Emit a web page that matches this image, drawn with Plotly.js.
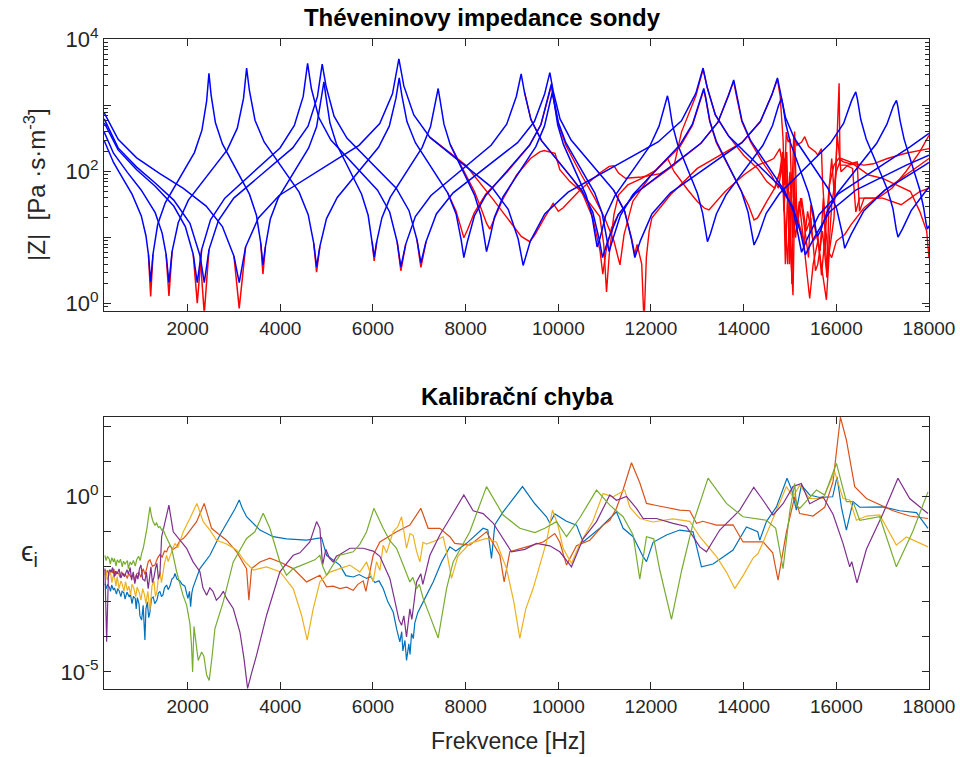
<!DOCTYPE html>
<html>
<head>
<meta charset="utf-8">
<script src="https://cdn.plot.ly/plotly-3.0.1.min.js"></script>
<style>html,body{margin:0;padding:0;background:#fff;}#chart{width:960px;height:757px;}</style>
</head>
<body>
<div id="chart"></div>
<script>
// ---- Top panel: |Z| values, stored as [frequency Hz, log10 |Z|] ----
const tubeA_model = [[200,2.47],[400,2.14],[600,1.90],[800,1.66],[1000,1.33],[1100,1.03],[1155,0.74],[1202,0.33],
[1252,0.75],[1353,1.20],[1517,1.53],[2146,2.29],[2309,2.63],[2410,3.07],[2460,3.49],
[2507,3.16],[2600,2.74],[2751,2.42],[3334,1.66],[3485,1.34],[3578,0.92],[3625,0.59],
[3678,0.86],[3783,1.28],[3954,1.60],[4612,2.36],[4783,2.68],[4888,3.10],[4941,3.36],
[4984,3.14],[5071,2.74],[5212,2.42],[5755,1.66],[5896,1.34],[5983,0.94],[6026,0.71],
[6081,0.94],[6192,1.30],[6371,1.61],[7062,2.37],[7241,2.68],[7352,3.04],[7407,3.26],
[7449,3.08],[7532,2.72],[7668,2.41],[8190,1.65],[8326,1.34],[8409,0.98],[8451,0.79],
[8508,0.95],[8621,1.31],[8806,1.62],[9515,2.38],[9700,2.69],[9813,3.05],[9870,3.20],
[9909,3.06],[9986,2.71],[10112,2.41],[10595,1.65],[10721,1.35],[10798,1.00],[10837,0.86],
[10898,0.99],[11019,1.33],[11217,1.63],[11976,2.39],[12174,2.69],[12295,3.02],[12356,3.15],
[12391,3.03],[12460,2.72],[12572,2.42],[13003,1.67],[13115,1.37],[13184,1.06],[13219,0.94],
[13283,1.06],[13411,1.36],[13618,1.65],[14416,2.40],[14623,2.70],[14751,3.00],[14815,3.11],
[14846,3.01],[14908,2.73],[15009,2.44],[15398,1.68],[15499,1.39],[15561,1.11],[15592,1.02],
[15660,1.11],[15797,1.38],[16018,1.67],[16871,2.43],[17092,2.72],[17229,2.99],[17297,3.08],
[17324,3.00],[17377,2.77],[17464,2.49],[17799,1.73],[17886,1.45],[17939,1.21],[17966,1.13],
[18000,1.18]];

const tubeB_model = [[200,2.60],[400,2.28],[700,1.99],[1000,1.72],[1300,1.38],[1450,1.07],[1535,0.75],[1597,0.32],
[1664,0.79],[1798,1.23],[2016,1.57],[2854,2.33],[3072,2.66],[3206,3.11],[3273,3.57],
[3333,3.23],[3454,2.78],[3651,2.45],[4406,1.69],[4602,1.35],[4723,0.91],[4783,0.56],
[4854,0.87],[4997,1.29],[5229,1.61],[6120,2.37],[6352,2.69],[6495,3.11],[6566,3.42],
[6622,3.16],[6733,2.76],[6915,2.44],[7612,1.68],[7794,1.36],[7905,0.96],[7961,0.70],
[8037,0.94],[8188,1.33],[8433,1.64],[9378,2.40],[9623,2.71],[9774,3.10],[9850,3.33],
[9900,3.11],[10000,2.75],[10162,2.44],[10785,1.68],[10946,1.37],[11046,1.01],[11096,0.79],
[11178,0.98],[11341,1.34],[11607,1.65],[12628,2.41],[12894,2.72],[13057,3.08],[13139,3.26],
[13182,3.12],[13269,2.77],[13410,2.46],[13953,1.70],[14094,1.39],[14181,1.04],[14224,0.89],
[14312,1.02],[14487,1.37],[14773,1.67],[15870,2.43],[16156,2.73],[16331,3.08],[16419,3.21],
[16455,3.10],[16528,2.79],[16647,2.49],[17103,1.73],[17222,1.44],[17295,1.12],[17331,1.01],
[17426,1.13],[17615,1.41],[17924,1.70],[18000,1.77]];

const tubeC_model = [[200,2.74],[500,2.33],[900,2.03],[1300,1.78],[1700,1.48],[1950,1.17],[2120,0.75],[2208,0.32],
[2303,0.82],[2494,1.27],[2803,1.60],[3994,2.36],[4303,2.70],[4494,3.14],[4589,3.64],
[4670,3.26],[4831,2.82],[5092,2.48],[6099,1.72],[6360,1.39],[6521,0.94],[6602,0.56],
[6706,0.90],[6914,1.32],[7251,1.64],[8549,2.40],[8886,2.72],[9094,3.14],[9198,3.48],
[9268,3.21],[9409,2.79],[9637,2.47],[10515,1.71],[10743,1.39],[10884,0.97],[10954,0.70],
[11067,0.95],[11294,1.35],[11662,1.67],[13077,2.43],[13445,2.75],[13672,3.15],[13785,3.39],
[13844,3.17],[13961,2.78],[14151,2.47],[14884,1.71],[15074,1.40],[15191,1.01],[15250,0.78],
[15375,0.99],[15626,1.35],[16033,1.66],[17598,2.38],[18000,2.58]];

const tubeD_model = [[200,2.80],[500,2.36],[900,2.07],[1300,1.83],[1700,1.57],[2050,1.22],[2270,0.72],[2359,0.32],
[2461,0.82],[2664,1.26],[2995,1.60],[4268,2.36],[4599,2.69],[4802,3.14],[4904,3.63],
[4989,3.29],[5160,2.84],[5437,2.51],[6502,1.75],[6778,1.41],[6949,0.97],[7034,0.62],
[7145,0.94],[7368,1.36],[7730,1.68],[9121,2.44],[9483,2.76],[9706,3.18],[9817,3.50],
[9890,3.22],[10037,2.80],[10276,2.48],[11193,1.72],[11431,1.40],[11578,0.98],[11651,0.70],
[11774,0.96],[12020,1.36],[12421,1.68],[13960,2.44],[14360,2.76],[14606,3.16],[14729,3.42],
[14787,3.20],[14903,2.82],[15092,2.51],[15818,1.75],[16007,1.44],[16123,1.08],[16181,0.84],
[16319,1.05],[16596,1.41],[17046,1.72],[17911,2.10],[18000,2.14]];

const tubeE_model = [[200,2.89],[500,2.49],[900,2.21],[1400,1.97],[1900,1.75],[2400,1.48],[2750,1.17],[3000,0.72],[3113,0.32],
[3251,0.86],[3527,1.30],[3975,1.64],[5698,2.40],[6146,2.73],[6421,3.18],[6559,3.71],
[6666,3.30],[6881,2.86],[7230,2.52],[8571,1.76],[8919,1.43],[9134,0.98],[9241,0.58],
[9396,0.95],[9707,1.36],[10212,1.69],[12153,2.45],[12658,2.77],[12969,3.19],[13124,3.57],
[13212,3.28],[13389,2.86],[13676,2.54],[14779,1.78],[15065,1.46],[15242,1.04],[15330,0.74],
[15504,0.98],[15853,1.39],[16420,1.72],[17510,2.10],[18000,2.25]];

// measured (red) curves: deeper tips at low-frequency minima, separated pieces
const measured_tips = [[1155,0.74],[1202,0.11],[1252,0.75],[null,null],
[1535,0.75],[1597,0.12],[1664,0.79],[null,null],
[2120,0.75],[2208,0.01],[2303,0.82],[null,null],
[2270,0.72],[2359,-0.15],[2461,0.82],[null,null],
[3000,0.72],[3113,-0.07],[3251,0.86],[null,null],
[3578,0.92],[3625,0.45],[3678,0.86],[null,null],
[4723,0.91],[4783,0.48],[4854,0.87],[null,null],
[5983,0.94],[6026,0.65],[6081,0.94],[null,null],
[6521,0.94],[6602,0.50],[6706,0.90],[null,null],
[6949,0.97],[7034,0.55],[7145,0.94]];

const tubeA_meas = [[7668,2.41],[8000,1.95],[8190,1.70],[8330,1.45],[8450,1.22],[8522,1.13],[8600,1.25],[8800,1.58],[9100,1.95],[9400,2.20],[9600,2.30],[9700,2.32],[9800,2.30],[9930,2.28],[10032,2.03],[10250,1.85],[10464,1.72],[10700,1.50],[10895,1.32],[10980,0.90],[11040,0.18],[11100,0.75],[11200,1.35],[11300,1.65],[11500,1.80],[11800,1.90],[12100,2.02],[12356,2.20],[12500,2.00],[12800,1.72],[13000,1.55],[13150,1.45],[13250,1.42],[13600,1.70],[14000,1.95],[14300,2.10],[14500,2.15],[14650,2.20],[14780,2.35],[14815,2.20],[14860,1.80],[14900,0.60],[14940,1.50],[15000,2.00],[15060,1.00],[15100,2.61],[15150,1.30],[15250,1.60],[15350,1.10],[15450,1.30],[15550,0.50],[15600,0.60],[15700,1.10],[15800,0.40],[15900,1.50],[16000,2.00],[16100,2.20],[16300,2.15],[16500,2.05],[16700,1.95],[17000,1.90],[17300,1.80],[17600,1.70],[17800,1.40],[17950,1.10],[18000,0.69]];

const tubeB_meas = [[7612,1.68],[7794,1.40],[7900,1.15],[7961,1.00],[8040,1.12],[8188,1.38],[8433,1.66],[8900,2.00],[9378,2.40],[9623,2.71],[9774,3.10],[9850,3.30],[9900,3.08],[9999,2.72],[10162,2.40],[10500,1.95],[10785,1.60],[11000,1.30],[11200,0.95],[11330,0.59],[11420,1.05],[11607,1.55],[12000,1.95],[12628,2.38],[12894,2.70],[13057,3.06],[13139,3.24],[13182,3.10],[13269,2.76],[13410,2.44],[13700,2.05],[13953,1.72],[14100,1.50],[14224,1.27],[14300,1.30],[14500,1.55],[14670,1.75],[14780,2.00],[14840,2.30],[14870,1.50],[14950,0.60],[15000,1.70],[15040,0.30],[15090,1.90],[15150,1.10],[15230,1.60],[15300,1.20],[15400,0.70],[15450,1.50],[15550,1.10],[15650,0.80],[15720,1.60],[15800,0.40],[15850,1.80],[15950,2.10],[16050,2.20],[16150,2.15],[16300,2.12],[16450,2.15],[16500,1.40],[16600,1.60],[16900,1.60],[17200,1.75],[17500,2.00],[17800,2.30],[18000,2.55]];

const tubeC_meas = [[9268,3.21],[9409,2.79],[9637,2.47],[10000,2.15],[10300,1.90],[10515,1.68],[10743,1.30],[10900,0.80],[10960,0.45],[11030,0.80],[11150,1.15],[11294,1.35],[11662,1.67],[12400,2.05],[13077,2.43],[13445,2.75],[13672,3.15],[13785,3.37],[13844,3.15],[13961,2.76],[14151,2.45],[14400,2.15],[14600,1.95],[14750,1.75],[14830,2.10],[14870,1.40],[14930,2.30],[14990,0.60],[15030,1.60],[15120,1.00],[15200,1.55],[15300,0.90],[15380,1.40],[15500,0.95],[15600,1.05],[15680,0.43],[15740,0.90],[15820,1.50],[15900,2.20],[15960,1.60],[16020,2.56],[16100,2.00],[16250,2.10],[16400,2.12],[16600,2.10],[16800,2.12],[17100,2.20],[17500,2.28],[18000,2.35]];

const tubeD_meas = [[11193,1.72],[11431,1.40],[11578,1.00],[11651,0.75],[11700,0.90],[11800,0.60],[11850,-0.30],[11900,0.70],[11960,1.10],[12020,1.30],[12421,1.65],[13000,2.05],[13960,2.44],[14360,2.76],[14606,3.16],[14729,3.40],[14787,3.15],[14850,2.50],[14880,1.80],[14920,2.60],[14960,2.45],[15000,2.50],[15040,1.60],[15080,2.55],[15150,2.40],[15250,2.45],[15318,2.53],[15400,2.38],[15550,2.30],[15600,2.25],[15678,2.35],[15700,1.90],[15760,1.20],[15820,0.80],[15900,0.70],[16000,0.95],[16181,1.05],[16319,1.20],[16596,1.45],[17046,1.72],[17500,1.95],[18000,2.20]];

const tubeE_meas = [[7230,2.52],[8000,2.10],[8571,1.60],[8900,1.30],[9200,1.02],[9385,0.94],[9500,1.05],[9700,1.30],[9888,1.52],[10000,1.40],[10100,1.45],[10464,1.72],[10895,1.98],[11100,2.08],[11200,2.09],[11300,1.98],[11450,1.90],[11800,1.92],[12200,1.97],[12500,2.10],[12658,2.60],[12969,3.15],[13124,3.55],[13212,3.28],[13389,2.86],[13676,2.54],[14000,2.25],[14300,2.05],[14500,1.85],[14670,1.75],[14886,2.20],[14930,1.77],[15000,1.00],[15065,0.13],[15102,1.60],[15200,1.20],[15300,0.95],[15330,0.70],[15425,0.08],[15500,0.60],[15600,0.95],[15700,0.45],[15786,0.06],[15850,0.80],[15950,1.30],[16060,3.34],[16080,2.10],[16200,2.10],[16350,2.05],[16420,1.39],[16500,1.60],[17000,1.60],[17200,1.55],[17400,1.50],[17600,1.60],[17800,1.70],[18000,1.75]];

// ---- Bottom panel: calibration error, [frequency Hz, log10 eps] ----
const err1 = [[215,-2.48],[245,-2.62],[270,-2.50],[310,-2.58],[335,-2.70],[360,-2.52],[400,-2.66],[420,-2.60],[465,-2.78],[490,-2.62],[520,-2.68],[560,-2.85],[585,-2.70],[625,-2.74],[650,-2.92],[690,-2.72],[740,-2.86],[765,-2.78],[800,-3.05],[830,-2.84],[870,-2.90],[890,-3.20],[915,-2.88],[950,-3.05],[970,-3.40],[1007,-3.52],[1040,-3.10],[1078,-4.09],[1100,-3.20],[1130,-3.00],[1160,-3.45],[1186,-3.30],[1220,-2.90],[1257,-2.86],[1290,-3.05],[1337,-2.95],[1370,-2.75],[1402,-2.70],[1435,-2.85],[1467,-2.80],[1500,-2.60],[1547,-2.52],[1580,-2.65],[1618,-2.55],[1660,-2.35],[1700,-2.30],[1726,-2.19],[1770,-2.35],[1834,-2.40],[1880,-2.50],[1941,-2.55],[1980,-2.75],[2006,-2.90],[2040,-2.70],[2064,-3.14],[2090,-2.75],[2114,-2.60],[2265,-2.05],[2481,-1.67],[2697,-1.09],[2912,-0.62],[3020,-0.35],[3113,-0.09],[3171,-0.30],[3272,-0.57],[3560,-0.95],[3847,-1.14],[4136,-1.20],[4567,-1.24],[4891,-1.17],[4940,-1.40],[4999,-1.67],[5134,-1.80],[5286,-1.95],[5415,-2.25],[5573,-2.29],[5700,-2.22],[5862,-2.33],[5950,-2.28],[6041,-2.45],[6130,-2.40],[6220,-2.62],[6321,-3.00],[6436,-3.29],[6515,-3.80],[6580,-4.14],[6620,-3.85],[6645,-4.40],[6690,-4.10],[6724,-4.67],[6774,-4.20],[6800,-4.50],[6832,-3.90],[6870,-4.05],[6903,-3.60],[6968,-3.30],[7083,-3.00],[7299,-2.43],[7479,-1.86],[7659,-1.43],[7788,-1.55],[8019,-1.33],[8377,-0.90],[8478,-0.95],[8558,-1.76],[8630,-0.80],[8809,-0.43],[9025,-0.05],[9227,0.29],[9493,-0.20],[9745,-0.57],[9816,-0.75],[9924,-0.49],[10177,-0.70],[10392,-0.81],[10534,-1.29],[10895,-0.90],[11255,-0.43],[11398,-0.90],[11614,-1.14],[11830,-1.71],[11903,-1.85],[12045,-1.30],[12334,-1.09],[12621,-0.95],[12908,-1.00],[13089,-2.00],[13339,-1.92],[13771,-1.52],[14060,-0.86],[14304,-1.00],[14347,-1.24],[14491,-0.71],[14707,-0.29],[14936,0.53],[15037,0.20],[15138,-0.38],[15246,0.33],[15425,0.05],[15642,-0.02],[15921,0.00],[16015,0.57],[16110,-0.30],[16217,-0.95],[16360,-0.14],[16505,-0.30],[17008,-0.29],[17368,-0.40],[17729,-0.45],[17978,-0.90]];

const err2 = [[215,-2.09],[240,-2.18],[275,-2.10],[300,-2.24],[345,-2.12],[380,-2.16],[405,-2.06],[440,-2.25],[470,-2.15],[515,-2.20],[540,-2.30],[575,-2.14],[620,-2.26],[650,-2.20],[700,-2.33],[725,-2.18],[770,-2.28],[826,-2.24],[850,-2.38],[900,-2.20],[950,-2.16],[990,-2.30],[1040,-2.05],[1080,-2.22],[1115,-2.05],[1150,-1.85],[1186,-1.80],[1240,-1.98],[1294,-1.95],[1350,-1.75],[1402,-1.65],[1450,-1.72],[1500,-1.55],[1547,-1.57],[1580,-1.45],[1618,-1.40],[1690,-1.50],[1762,-1.43],[1834,-1.25],[1900,-1.20],[1978,-1.09],[2194,-0.71],[2358,-0.19],[2517,-0.90],[2653,-1.05],[2841,-1.24],[3057,-1.57],[3272,-2.05],[3322,-2.95],[3380,-2.05],[3560,-1.86],[3775,-1.75],[3991,-1.86],[4278,-2.05],[4567,-2.43],[4703,-2.35],[4854,-2.24],[4999,-2.57],[5140,-2.55],[5286,-2.62],[5430,-2.58],[5573,-2.67],[5674,-2.50],[5788,-2.40],[5847,-2.70],[6004,-1.67],[6149,-1.29],[6509,-1.00],[6796,-0.81],[7033,-0.33],[7191,-0.90],[7443,-0.90],[7659,-1.14],[7766,-1.33],[8090,-1.38],[8450,-1.00],[8738,-1.67],[8831,-2.43],[8953,-1.57],[9314,-1.43],[9672,-1.29],[9924,-1.05],[10032,-1.30],[10177,-1.95],[10392,-1.40],[10680,-1.24],[10966,-0.81],[11111,-0.67],[11255,-0.33],[11398,0.20],[11579,0.97],[11758,0.40],[11903,-0.19],[12118,-0.25],[12621,-0.38],[12837,-0.40],[12981,-0.76],[13118,-0.70],[13413,-0.81],[13771,-0.80],[13987,-1.29],[14419,-1.29],[14627,-1.60],[14742,-2.38],[14923,-1.00],[15102,0.00],[15210,-0.48],[15497,-0.55],[15749,-0.30],[15929,0.43],[16030,1.50],[16088,2.27],[16217,1.62],[16397,0.29],[16649,-0.05],[16865,-0.19],[17223,-0.40],[17583,-0.55],[17978,-0.62]];

const err3 = [[215,-2.24],[240,-2.10],[265,-2.38],[300,-2.20],[330,-2.12],[366,-2.45],[395,-2.25],[430,-2.35],[453,-2.55],[480,-2.28],[520,-2.62],[560,-2.40],[590,-2.50],[625,-2.70],[660,-2.42],[700,-2.68],[730,-2.55],[770,-2.80],[798,-2.50],[840,-2.62],[880,-2.85],[910,-2.58],[960,-2.75],[992,-2.95],[1030,-2.62],[1070,-2.80],[1100,-3.05],[1140,-2.70],[1186,-3.24],[1230,-2.55],[1273,-2.40],[1305,-2.85],[1337,-2.70],[1370,-2.30],[1402,-2.14],[1435,-2.45],[1467,-2.20],[1500,-1.90],[1547,-1.67],[1580,-1.85],[1618,-1.70],[1670,-1.50],[1726,-1.33],[1790,-1.45],[1905,-1.00],[2049,-0.62],[2200,-0.19],[2336,-0.71],[2481,-0.95],[2625,-1.24],[2841,-1.35],[3057,-1.52],[3236,-1.85],[3415,-2.09],[3704,-2.00],[3991,-2.14],[4278,-2.62],[4459,-3.38],[4580,-4.09],[4710,-3.20],[4854,-2.43],[5070,-2.15],[5286,-2.05],[5501,-1.95],[5717,-2.15],[5862,-1.86],[6004,-2.43],[6077,-1.85],[6149,-2.10],[6220,-1.38],[6293,-1.60],[6436,-1.00],[6537,-0.85],[6617,-0.57],[6724,-1.47],[6800,-1.05],[6867,-1.10],[6940,-1.55],[7012,-1.86],[7080,-1.30],[7156,-1.35],[7372,-1.24],[7514,-1.14],[7594,-1.60],[7696,-2.33],[7831,-1.70],[8090,-1.33],[8450,-1.19],[8666,-1.30],[8882,-2.05],[9040,-3.00],[9169,-4.04],[9298,-3.20],[9456,-2.62],[9745,-1.29],[9874,-0.38],[9989,-0.80],[10103,-1.47],[10284,-1.90],[10464,-1.35],[10744,-0.70],[10966,0.09],[11182,0.00],[11434,0.19],[11542,-0.30],[11758,-0.62],[12038,-0.72],[12334,-0.67],[12470,-0.63],[12837,-0.70],[13053,-1.14],[13413,-1.71],[13628,-2.15],[13808,-2.62],[13987,-2.25],[14203,-1.75],[14311,-1.62],[14419,-1.30],[14707,-0.38],[14923,0.29],[15065,0.00],[15210,0.33],[15425,-0.05],[15712,-0.05],[15965,0.71],[16144,-0.05],[16289,-0.09],[16433,-0.67],[16649,-0.55],[16936,-0.52],[17296,-1.38],[17512,-1.15],[17978,-1.43]];

const err4 = [[215,-2.05],[252,-4.14],[291,-2.20],[320,-2.08],[350,-2.15],[380,-2.02],[420,-2.28],[445,-2.12],[480,-2.20],[520,-2.06],[560,-2.32],[600,-2.18],[640,-2.28],[690,-2.08],[720,-2.20],[760,-2.02],[790,-2.38],[826,-2.14],[860,-2.48],[900,-2.22],[927,-2.35],[960,-2.05],[992,-1.95],[1030,-2.35],[1078,-2.40],[1110,-2.15],[1149,-2.62],[1180,-2.20],[1208,-2.00],[1240,-2.45],[1273,-2.30],[1305,-2.05],[1337,-1.90],[1370,-2.35],[1402,-2.20],[1439,-1.14],[1510,-0.70],[1596,-0.24],[1689,-1.00],[1834,-1.25],[1978,-1.47],[2114,-1.85],[2265,-2.14],[2330,-2.60],[2410,-2.81],[2480,-2.60],[2546,-2.70],[2620,-2.95],[2697,-2.85],[2770,-2.70],[2841,-2.90],[2984,-3.19],[3128,-3.86],[3214,-4.60],[3294,-5.47],[3387,-5.00],[3488,-4.52],[3704,-3.38],[3991,-2.14],[4278,-1.67],[4422,-1.60],[4638,-1.29],[4783,-0.71],[4854,-0.90],[4912,-1.95],[4983,-1.50],[5060,-1.75],[5141,-1.86],[5210,-1.70],[5286,-1.65],[5501,-1.47],[5788,-1.47],[6004,-1.55],[6149,-1.70],[6364,-2.33],[6509,-3.19],[6558,-3.50],[6617,-3.67],[6666,-3.40],[6724,-4.00],[6796,-3.20],[6839,-3.50],[6941,-2.43],[7033,-2.20],[7076,-2.50],[7228,-1.67],[7443,-1.09],[7659,-0.62],[7961,0.05],[8162,-0.40],[8377,-0.48],[8593,-0.75],[8809,-1.19],[8990,-1.57],[9277,-1.50],[9529,-1.33],[9816,-1.40],[10032,-1.57],[10284,-2.00],[10534,-1.20],[10824,-0.71],[11111,0.05],[11255,-0.10],[11471,0.01],[11686,-0.33],[11830,-0.62],[12118,-0.62],[12477,-0.76],[12765,-0.85],[13053,-1.43],[13197,-1.57],[13484,-0.95],[13916,-0.38],[14218,0.27],[14419,-0.10],[14634,-0.52],[14850,-0.20],[15065,0.29],[15246,0.38],[15425,-0.20],[15712,0.00],[15929,-0.50],[16144,-1.33],[16289,-2.00],[16332,-1.85],[16446,-2.46],[16649,-1.50],[17008,-0.48],[17330,0.53],[17583,-0.05],[17978,-0.48]];

const err5 = [[215,-1.67],[240,-1.82],[270,-1.70],[310,-1.78],[330,-1.92],[365,-1.74],[400,-1.86],[420,-1.76],[455,-1.98],[480,-1.80],[520,-1.88],[550,-1.78],[590,-2.00],[615,-1.84],[650,-1.92],[700,-1.82],[720,-2.05],[760,-1.86],[790,-1.94],[830,-1.82],[870,-1.98],[900,-1.80],[940,-1.70],[975,-1.82],[1010,-1.60],[1042,-1.47],[1122,-0.90],[1186,-0.29],[1220,-0.55],[1251,-0.70],[1294,-0.81],[1330,-0.75],[1370,-0.88],[1402,-0.85],[1440,-0.95],[1467,-0.92],[1520,-1.10],[1575,-1.25],[1654,-1.47],[1762,-2.14],[1898,-2.80],[1978,-3.09],[2049,-3.62],[2082,-4.20],[2108,-5.00],[2136,-3.70],[2157,-3.95],[2228,-4.67],[2302,-4.43],[2351,-4.55],[2410,-5.09],[2466,-5.24],[2524,-4.60],[2589,-3.76],[2768,-3.00],[2984,-1.86],[3272,-1.19],[3452,-1.00],[3631,-0.47],[3775,-0.90],[3991,-1.86],[4136,-2.24],[4278,-2.05],[4567,-1.90],[4746,-1.80],[4854,-1.67],[4919,-2.00],[4999,-2.24],[5134,-1.95],[5286,-1.67],[5573,-1.57],[5718,-1.35],[5862,-1.00],[6019,-0.33],[6149,-0.71],[6220,-0.90],[6364,-1.25],[6509,-1.47],[6652,-1.95],[6796,-2.43],[6860,-2.30],[6941,-2.62],[7000,-2.50],[7083,-2.90],[7228,-3.40],[7407,-4.03],[7588,-2.62],[7730,-1.86],[8090,-1.00],[8450,0.29],[8809,-0.52],[9169,-0.90],[9493,-1.02],[9709,-0.90],[9961,-0.71],[10177,-1.14],[10464,-0.60],[10824,0.19],[11111,-0.24],[11398,-0.57],[11614,-1.09],[11758,-2.35],[11903,-1.14],[12060,-1.20],[12190,-2.09],[12442,-3.50],[12664,-2.09],[12908,-0.76],[13232,0.53],[13628,-0.19],[13987,-0.57],[14491,-0.67],[14692,-0.90],[14850,-2.05],[14994,-0.43],[15102,0.38],[15138,-0.24],[15210,-0.33],[15571,0.19],[15749,0.05],[16002,0.95],[16217,-0.14],[16360,-0.14],[16505,-0.67],[16936,-0.57],[17296,-2.00],[17648,-1.00],[17978,0.14]];

// tick labels
const xTicks = [2000,4000,6000,8000,10000,12000,14000,16000,18000];
const topYTicks = [1,100,10000];
const topYLabels = ['10<sup>0</sup>','10<sup>2</sup>','10<sup>4</sup>'];
const topYOtherDecades = [10,1000];
const botYLabelTicks = [1e-5,1];
const botYLabels = ['10<sup>-5</sup>','10<sup>0</sup>'];
const botYOtherTicks = [1e-4,1e-3,1e-2,1e-1,10,100];

// ---------------------------------------------------------------
const xs = p => p.map(d => d[0]);
const ys = p => p.map(d => d[1] === null ? null : Math.pow(10, d[1]));
const line = (p, color, w, ax) => ({x: xs(p), y: ys(p), type:'scatter', mode:'lines',
  line:{color:color, width:w}, xaxis: ax==2?'x2':'x', yaxis: ax==2?'y2':'y', hoverinfo:'skip', connectgaps:false});

const RED = '#ff0000', BLUE = '#0000ff';
const traces = [
  line(measured_tips, RED, 1.5, 1),
  line(tubeA_meas, RED, 1.4, 1), line(tubeB_meas, RED, 1.4, 1), line(tubeC_meas, RED, 1.4, 1),
  line(tubeD_meas, RED, 1.4, 1), line(tubeE_meas, RED, 1.4, 1),
  line(tubeA_model, BLUE, 1.5, 1), line(tubeB_model, BLUE, 1.5, 1), line(tubeC_model, BLUE, 1.5, 1),
  line(tubeD_model, BLUE, 1.5, 1), line(tubeE_model, BLUE, 1.5, 1),
  line(err1, '#0072BD', 1.2, 2), line(err2, '#D95319', 1.2, 2), line(err3, '#EDB120', 1.2, 2),
  line(err4, '#7E2F8E', 1.2, 2), line(err5, '#77AC30', 1.2, 2)
];

// minor ticks of the top log axis (axis decoration); the unlabeled decades get the long tick
const minorTop = [0.8,0.9];
for (let e = 0; e < 4; e++) for (let m = 2; m <= 9; m++) minorTop.push(m * Math.pow(10, e));

const AX = '#262626';
const FONT = 'Liberation Sans, Arial, Helvetica, sans-serif';
const xBase = {range:[195,18000], tickmode:'array', tickvals:xTicks, ticktext:xTicks.map(String),
  ticks:'inside', ticklen:7, tickwidth:1, tickcolor:AX, showline:true, linecolor:AX, linewidth:1,
  mirror:'ticks', showgrid:false, zeroline:false, tickfont:{family:FONT,size:19,color:AX}};

const layout = {
  width:960, height:757, margin:{l:104, r:31, t:39, b:68},
  paper_bgcolor:'#fff', plot_bgcolor:'#fff', showlegend:false, hovermode:false,
  font:{family:FONT, color:AX},
  title:{text:'<b>Théveninovy impedance sondy</b>', x:482/960, xref:'container', xanchor:'center',
    y:1-18/757, yref:'container', yanchor:'middle', font:{family:FONT,size:24,color:'#000'}},
  xaxis: Object.assign({}, xBase, {anchor:'y', domain:[0,1]}),
  xaxis2: Object.assign({}, xBase, {anchor:'y2', domain:[0,1]}),
  // overlay axis only to draw the long ticks of the unlabeled decades 10^1 and 10^3
  yaxis3: {type:'log', range:[-0.105,4.01], domain:[0.582,1], anchor:'x', overlaying:'y', side:'left',
    tickmode:'array', tickvals:topYOtherDecades, showticklabels:false, ticks:'inside', ticklen:7,
    tickcolor:AX, showline:false, mirror:'ticks', showgrid:false, zeroline:false},
  yaxis: {type:'log', range:[-0.105,4.01], domain:[0.582,1], anchor:'x', tickmode:'array',
    tickvals:topYTicks, ticktext:topYLabels, ticks:'inside', ticklen:7, tickcolor:AX,
    showline:true, linecolor:AX, linewidth:1, mirror:'ticks', showgrid:false, zeroline:false,
    tickfont:{family:FONT,size:22,color:AX},
    minor:{tickmode:'array', tickvals:minorTop, ticks:'inside', ticklen:4, tickcolor:AX, showgrid:false}},
  yaxis2: {type:'log', range:[-5.486,2.286], domain:[0,0.419], anchor:'x2', tickmode:'array',
    tickvals:botYLabelTicks, ticktext:botYLabels, ticks:'inside', ticklen:7, tickcolor:AX,
    showline:true, linecolor:AX, linewidth:1, mirror:'ticks', showgrid:false, zeroline:false,
    tickfont:{family:FONT,size:22,color:AX},
    minor:{tickmode:'array', tickvals:botYOtherTicks, ticks:'inside', ticklen:7, tickcolor:AX, showgrid:false}},
  annotations:[
    {text:'<b>Kalibrační chyba</b>', xref:'paper', yref:'paper', x:(517-104)/825, y:(689-396)/650,
      xanchor:'center', yanchor:'middle', showarrow:false, font:{family:FONT,size:24,color:'#000'}},
    {text:'|Z|&nbsp;&nbsp;[Pa&nbsp;·s·m<sup>-3</sup>]', xref:'paper', yref:'paper', x:(35-104)/825, y:(689-185)/650,
      xanchor:'center', yanchor:'middle', textangle:-90, showarrow:false, font:{family:FONT,size:24,color:AX}},
    {text:'ϵ<sub>i</sub>', xref:'paper', yref:'paper', x:(29-104)/825, y:(689-553)/650,
      xanchor:'center', yanchor:'middle', showarrow:false, font:{family:FONT,size:28,color:AX}},
    {text:'Frekvence [Hz]', xref:'paper', yref:'paper', x:(508-104)/825, y:(689-741)/650,
      xanchor:'center', yanchor:'middle', showarrow:false, font:{family:FONT,size:23,color:AX}}
  ]
};

// a dummy trace is needed for the overlay axis to be drawn
traces.push({x:[1000], y:[1], type:'scatter', mode:'markers', marker:{opacity:0, size:1}, xaxis:'x', yaxis:'y3', hoverinfo:'skip'});

Plotly.newPlot('chart', traces, layout, {staticPlot:true, displayModeBar:false});
</script>
</body>
</html>
